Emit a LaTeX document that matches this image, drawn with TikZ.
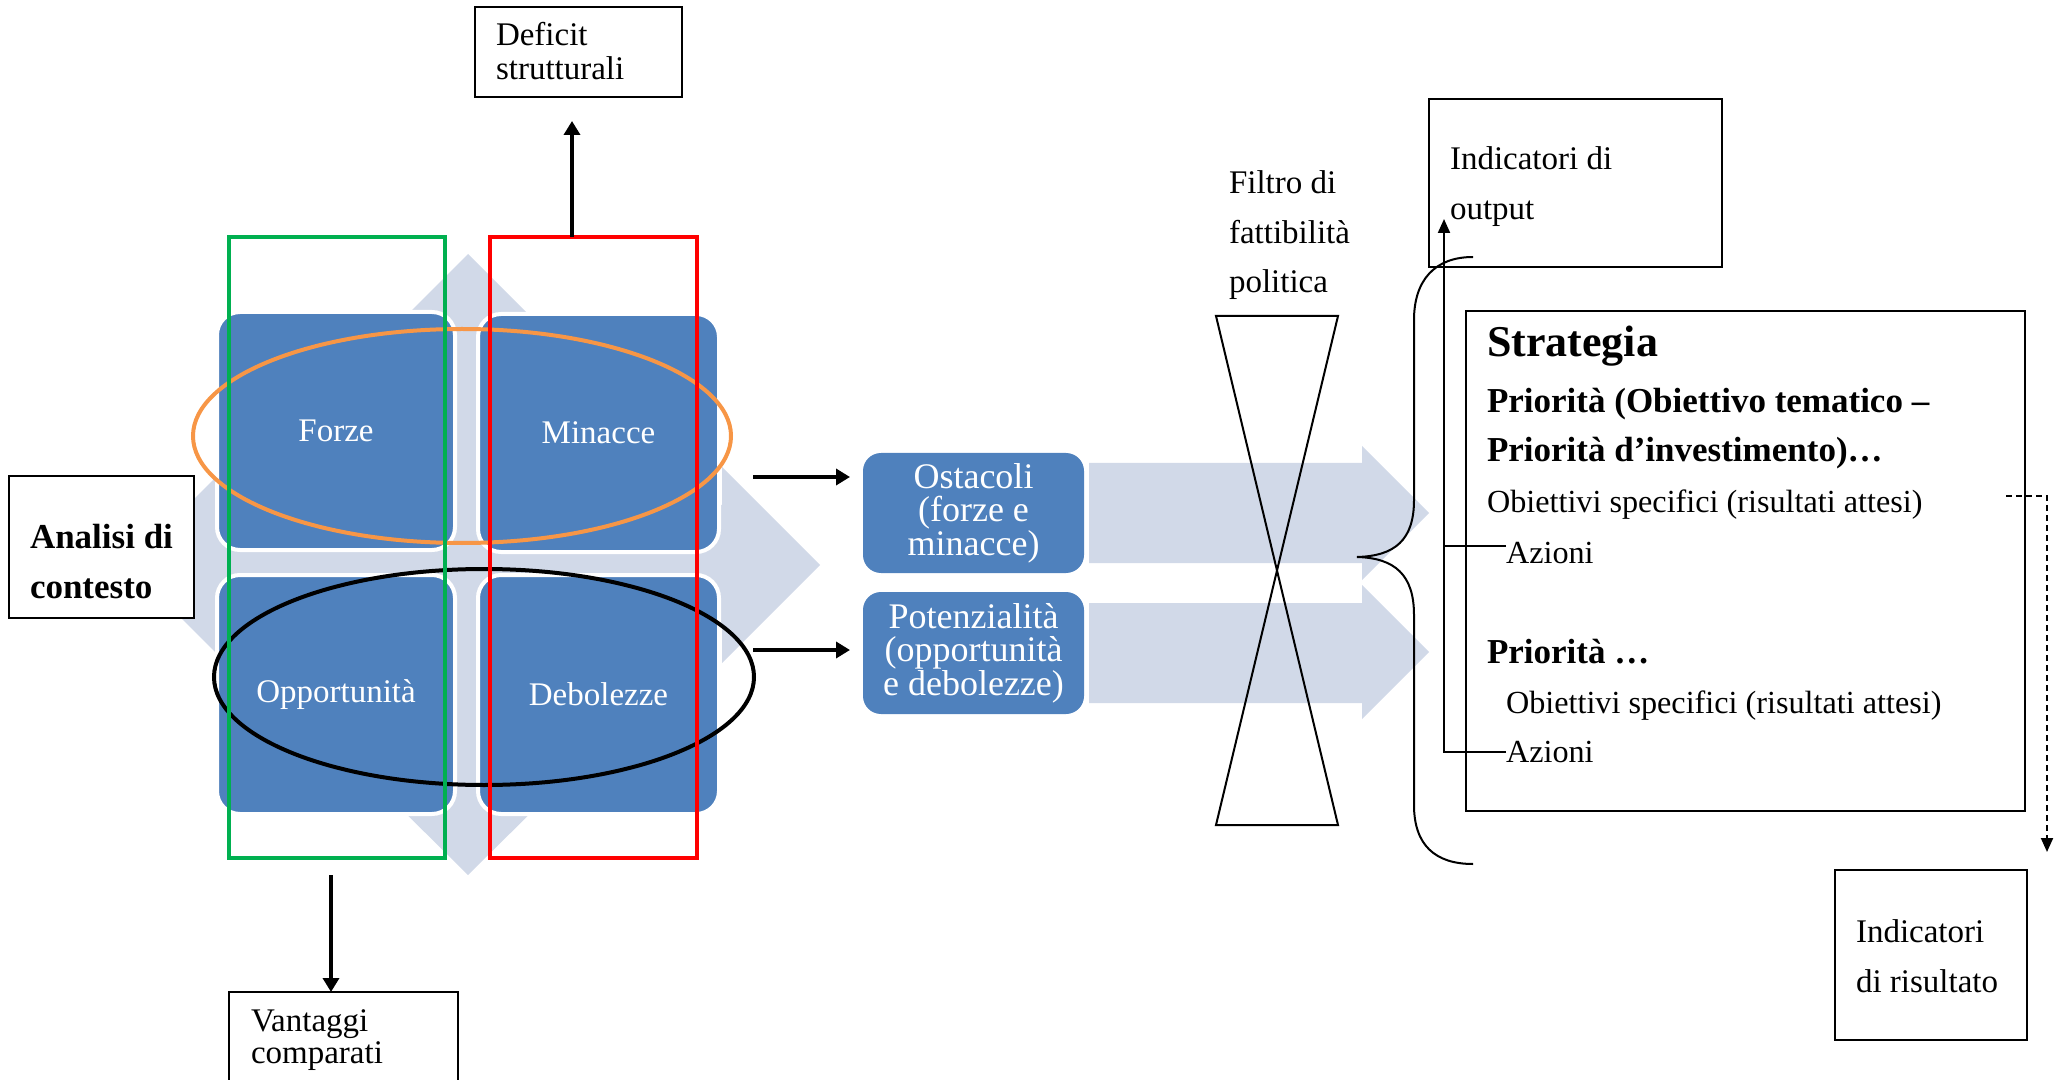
\documentclass[tikz,border=0pt]{standalone}
\usepackage{fontspec}
\setmainfont{Liberation Serif}
\usetikzlibrary{arrows.meta,calc,shapes.geometric}
\definecolor{swblue}{RGB}{79,129,189}
\definecolor{swlight}{RGB}{209,217,232}
\definecolor{swgreen}{RGB}{0,176,80}
\definecolor{swred}{RGB}{255,0,0}
\definecolor{sworange}{RGB}{247,150,70}
\begin{document}
\begin{tikzpicture}[x=0.5pt,y=-0.5pt,
  every node/.style={inner sep=0pt,outer sep=0pt},
  box/.style={draw=black,line width=1pt,fill=white},
  lbl/.style={anchor=base west,font=\fontsize{16.5}{17}\selectfont},
  lbls/.style={anchor=base west,font=\fontsize{16.1}{17}\selectfont},
  lblb/.style={anchor=base west,font=\bfseries\fontsize{17.5}{18}\selectfont},
  sq/.style={fill=swblue,draw=white,line width=2pt,rounded corners=11.5pt,text=white,font=\fontsize{16.5}{17}\selectfont},
  rbox/.style={fill=swblue,rounded corners=9pt,minimum width=110.5pt,text=white,align=center,font=\fontsize{18}{16.7}\selectfont},
  frame/.style={line width=2pt,minimum width=108pt,minimum height=310.5pt},
  oval/.style={ellipse,line width=2pt},
  arr/.style={-{Triangle[length=7pt,width=8pt]},line width=1.8pt},
  thinarr/.style={-{Triangle[length=7pt,width=6pt]},line width=1pt},
  dasharr/.style={-{Triangle[length=7pt,width=6pt]},line width=1pt,dash pattern=on 3pt off 2pt},
  thin/.style={line width=1pt}
]
\useasboundingbox (0,0) rectangle (2067,1080);
\clip (0,0) rectangle (2067,1080);

% background four-way arrow
\fill[swlight] (128,565) -- (218,475) -- (218,505) -- (408,505) -- (408,340) -- (382,340) -- (468,254) -- (554,340) -- (528,340) -- (528,505) -- (722,505) -- (722,467) -- (820,565) -- (722,663) -- (722,625) -- (528,625) -- (528,790) -- (554,790) -- (468,875) -- (382,790) -- (408,790) -- (408,625) -- (218,625) -- (218,655) -- cycle;

% SWOT squares
\node[sq,minimum width=119pt,minimum height=119pt] (forze) at (336,431) {Forze};
\node[sq,minimum width=120.5pt,minimum height=119pt] (minacce) at (598.5,433) {Minacce};
\node[sq,minimum width=119pt,minimum height=119.5pt] (opp) at (336,694.5) {Opportunità};
\node[sq,minimum width=120.5pt,minimum height=119.5pt] (deb) at (598.5,694.5) {Debolezze};

% ellipses
\node[oval,draw=sworange,minimum width=269pt,minimum height=107pt] (ovtop) at (462,436) {};
\node[oval,draw=black,minimum width=270pt,minimum height=108pt] (ovbot) at (484,677) {};

% coloured frames
\node[frame,draw=swgreen] (green) at (337,547.5) {};
\node[frame,draw=swred,minimum width=103.5pt] (red) at (593.5,547.5) {};

% Analisi di contesto
\node[box,minimum width=92.5pt,minimum height=71pt] (analisi) at (101.5,547) {};
\node[anchor=base west,font=\bfseries\fontsize{17.5}{18}\selectfont] (analisiA) at (30,548) {Analisi di};
\node[anchor=base west,font=\bfseries\fontsize{17.5}{18}\selectfont] (analisiB) at (30,598) {contesto};

% Deficit strutturali
\node[box,minimum width=103.5pt,minimum height=45pt] (deficit) at (578.5,52) {};
\node[lbl] (deficitA) at (496,46) {Deficit};
\node[lbl] (deficitB) at (496,80) {strutturali};
\draw[arr,shorten >=12pt] ([xshift=-10.75pt]red.north) -- ([xshift=-10.75pt]red.north |- deficit.south);

% Vantaggi comparati
\node[box,minimum width=114.5pt,minimum height=64pt] (vantaggi) at (343.5,1056) {};
\node[lbl] (vantA) at (251,1031) {Vantaggi};
\node[lbl] (vantB) at (251,1063) {comparati};
\draw[arr,shorten <=8.5pt] ([xshift=-3pt]green.south) -- ([xshift=-3pt]green.south |- vantaggi.north);

% Ostacoli / Potenzialita
\node[rbox,minimum height=60pt] (ost) at (973.5,513) {Ostacoli\\(forze e\\minacce)};
\node[rbox,minimum height=61pt] (pot) at (973.5,653) {Potenzialità\\(opportunità\\e debolezze)};
\coordinate (o1) at (753,477);
\coordinate (o2) at (753,650);
\draw[arr,shorten >=6.5pt] (o1) -- (o1 -| ost.west);
\draw[arr,shorten >=6.5pt] (o2) -- (o2 -| pot.west);

% big light arrows
\fill[swlight] (1089,463) -- (1362,463) -- (1362,446) -- (1429,513) -- (1362,580) -- (1362,563) -- (1089,563) -- cycle;
\fill[swlight] (1089,603) -- (1362,603) -- (1362,585) -- (1429,652) -- (1362,719) -- (1362,703) -- (1089,703) -- cycle;

% filter
\draw[thin] (1216,316) -- (1338,316) -- (1216,825) -- (1338,825) -- cycle;
\node[lbl] (filA) at (1229,194) {Filtro di};
\node[lbl] (filB) at (1229,244) {fattibilità};
\node[lbl] (filC) at (1229,293) {politica};

% Indicatori di output
\node[box,minimum width=146.5pt,minimum height=84pt] (outbox) at (1575.5,183) {};
\node[lbl] (outA) at (1450,170) {Indicatori di};
\node[lbl] (outB) at (1450,220) {output};

% brace
\draw[thin] (1473,257) .. controls (1435,257) and (1414,280) .. (1414,320) -- (1414,500) .. controls (1414,540) and (1395,556) .. (1357,557) .. controls (1395,558) and (1414,575) .. (1414,615) -- (1414,805) .. controls (1414,845) and (1435,864) .. (1473,864);

% Strategia
\node[box,fill=none,minimum width=279.5pt,minimum height=250pt] (strat) at (1745.5,561) {};
\node[anchor=base west,font=\bfseries\fontsize{22}{24}\selectfont] (stratT) at (1487,357) {Strategia};
\node[lblb] (p1a) at (1487,413) {Priorità (Obiettivo tematico –};
\node[lblb] (p1b) at (1487,462) {Priorità d’investimento)…};
\node[lbls] (ob1) at (1487,512) {Obiettivi specifici (risultati attesi)};
\node[lbls] (az1) at (1506,563) {Azioni};
\node[lblb] (p2) at (1487,663) {Priorità …};
\node[lbls] (ob2) at (1506,713) {Obiettivi specifici (risultati attesi)};
\node[lbls] (az2) at (1506,762) {Azioni};

\coordinate (vtop) at (1444,219);
\draw[thinarr] (az2.west) -- (az2.west -| vtop) -- (vtop);
\draw[thin] ([yshift=3pt]az1.west) -- ([yshift=3pt]az1.west -| vtop);

% Indicatori di risultato
\node[box,minimum width=96pt,minimum height=85pt] (risultato) at (1931,955) {};
\node[lbl] (risA) at (1856,942) {Indicatori};
\node[lbl] (risB) at (1856,992) {di risultato};
\coordinate (d1) at (2006,496);
\coordinate (d2) at (2047,496);
\draw[dasharr,shorten >=9pt] (d1) -- (d2) -- (d2 |- risultato.north);
\end{tikzpicture}
\end{document}
